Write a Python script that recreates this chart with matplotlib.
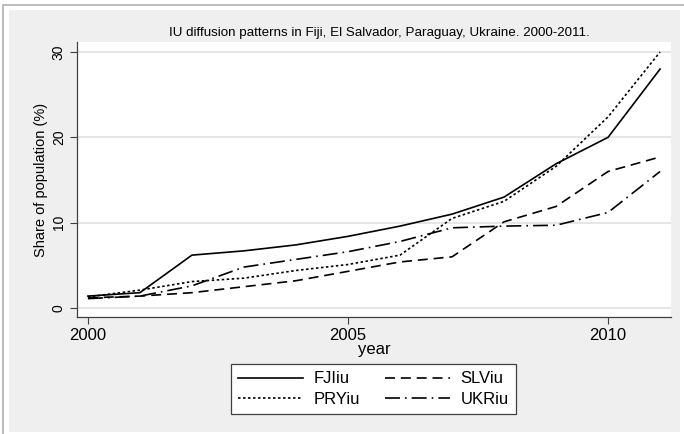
import matplotlib
matplotlib.use('Agg')
import matplotlib.pyplot as plt
from matplotlib.patches import Rectangle

plt.rcParams['font.family'] = ['Liberation Sans', 'DejaVu Sans']

years = list(range(2000, 2012))
fji = [1.4, 1.8, 6.2, 6.7, 7.4, 8.4, 9.6, 11.0, 13.0, 16.9, 20.0, 28.0]
slv = [1.2, 1.4, 1.8, 2.5, 3.2, 4.3, 5.4, 6.0, 10.1, 11.9, 16.0, 17.7]
pry = [1.3, 2.1, 3.1, 3.5, 4.4, 5.1, 6.2, 10.5, 12.5, 16.6, 22.4, 30.0]
ukr = [1.1, 1.4, 2.6, 4.8, 5.7, 6.6, 7.8, 9.4, 9.6, 9.7, 11.2, 16.0]

xticks = [2000, 2005, 2010]
yticks = [0, 10, 20, 30]

W, H = 684, 434
fig = plt.figure(figsize=(W / 100, H / 100), dpi=100)
fig.patch.set_facecolor('white')

# grey graph region and thin outer frame
fig.add_artist(Rectangle((9 / W, 1 - 432 / H), 671 / W, 422 / H,
                         transform=fig.transFigure, facecolor='#efefef',
                         edgecolor='none', zorder=0))
fig.add_artist(Rectangle((3 / W, -0.01), 1.1, 1 - 5 / H + 0.01,
                         transform=fig.transFigure, facecolor='none',
                         edgecolor='#b0b0b0', linewidth=1.2, zorder=0))

ax = fig.add_axes([77 / W, 1 - 317 / H, 594 / W, 275 / H])
ax.set_facecolor('white')

ax.plot(years, fji, color='black', lw=1.2, ls='-', label='FJIiu')
ax.plot(years, slv, color='black', lw=1.2, ls=(0, (6, 3.5)), label='SLViu')
ax.plot(years, pry, color='black', lw=1.2, ls=(0, (1.5, 1.5)), label='PRYiu')
ax.plot(years, ukr, color='black', lw=1.2, ls=(0, (9, 3, 1, 3)), label='UKRiu')

ax.set_xlim(1999.79, 2011.21)
ax.set_ylim(-1.05, 31.17)
ax.set_xticks(xticks)
ax.set_yticks(yticks)
ax.set_yticklabels([str(v) for v in yticks], rotation=90, va='center')
ax.tick_params(axis='both', direction='out', length=5, width=0.8,
               color='#404040', pad=3)
ax.tick_params(axis='x', labelsize=12)
ax.tick_params(axis='y', labelsize=10)
ax.grid(axis='y', color='#e6e6e6', lw=1.5)
ax.set_axisbelow(True)
for s in ['top', 'right']:
    ax.spines[s].set_visible(False)
for s in ['left', 'bottom']:
    ax.spines[s].set_color('#404040')
    ax.spines[s].set_linewidth(0.9)

ax.set_xlabel('year', fontsize=12, labelpad=-1)
ax.set_ylabel('Share of population (%)', fontsize=10.5, labelpad=3)

fig.text(379 / W, 1 - 33 / H,
         'IU diffusion patterns in Fiji, El Salvador, Paraguay, Ukraine. 2000-2011.',
         ha='center', va='center', fontsize=9.6)

h, l = ax.get_legend_handles_labels()
order = [0, 2, 1, 3]
leg = fig.legend([h[i] for i in order], [l[i] for i in order], ncol=2,
                 loc='center', bbox_to_anchor=(373.5 / W, 1 - 389 / H),
                 fontsize=12, frameon=True, fancybox=False,
                 edgecolor='#404040', facecolor='white', framealpha=1,
                 handlelength=3.9, handletextpad=0.65, columnspacing=1.45,
                 labelspacing=0.32, borderpad=0.45)
leg.get_frame().set_linewidth(0.9)

fig.savefig('out.png', dpi=100)
